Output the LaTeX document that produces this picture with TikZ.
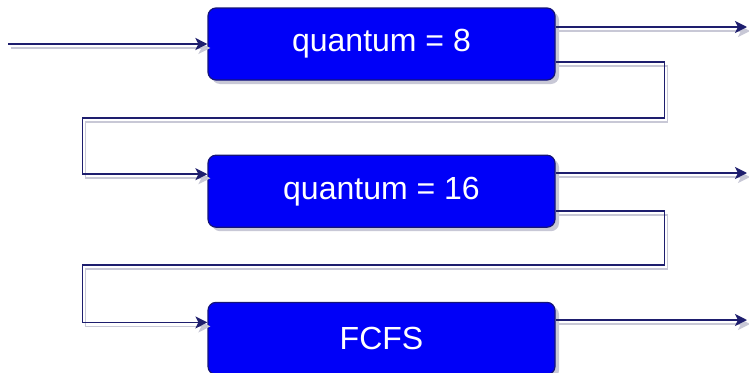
\documentclass[tikz,border=0pt]{standalone}
\usepackage{fontspec}
\setmainfont{Liberation Sans}
\usepackage{tikz}
\usetikzlibrary{arrows.meta,positioning,shadows}
\definecolor{qblue}{RGB}{0,0,248}
\definecolor{qnavy}{RGB}{20,20,120}
\definecolor{linenavy}{RGB}{30,30,110}
\definecolor{shadowgray}{RGB}{200,200,214}
\tikzset{
  queuebox/.style={draw=qnavy, rounded corners=8pt, line width=1.2pt,
    minimum width=347pt, minimum height=72pt, align=center, fill=qblue,
    text=white, font=\fontsize{32}{36}\selectfont,
    drop shadow={shadow xshift=4pt, shadow yshift=-4pt, fill=shadowgray, opacity=1}},
  lineshadow/.style={preaction={draw=shadowgray, line width=1.5pt,
    transform canvas={shift={(3pt,-4pt)}}}},
  flow/.style={draw=linenavy, line width=2pt, lineshadow, -{Stealth[length=12pt,width=12pt,inset=3pt]}},
  loopflow/.style={draw=linenavy, line width=1.7pt, lineshadow, -{Stealth[length=12pt,width=12pt,inset=3pt]}}
}
\begin{document}
\begin{tikzpicture}[node distance=74pt]
\useasboundingbox (0,0) rectangle (749pt,-372pt);
\node[queuebox] (q8) at (381.5pt,-44pt) {quantum = 8};
\node[queuebox, below=of q8] (q16) {quantum = 16};
\node[queuebox, below=of q16] (fcfs) {FCFS};

\coordinate (in) at (8pt,-44pt);
\coordinate (out8) at (747pt,-27pt);
\coordinate (out16) at (747pt,-173pt);
\coordinate (outf) at (747pt,-320pt);

\draw[flow] (in) -- (q8.west);
\draw[flow] (q8.east |- out8) -- (out8);
\draw[flow] (q16.east |- out16) -- (out16);
\draw[flow] (fcfs.east |- outf) -- (outf);
\draw[loopflow] ([yshift=-18pt]q8.east) -- ++(109pt,0) -- ++(0,-56pt) -- ++(-582pt,0) |- ([yshift=17pt]q16.west);
\draw[loopflow] ([yshift=-20pt]q16.east) -- ++(109pt,0) -- ++(0,-54pt) -- ++(-582pt,0) |- ([yshift=16pt]fcfs.west);
\end{tikzpicture}
\end{document}
